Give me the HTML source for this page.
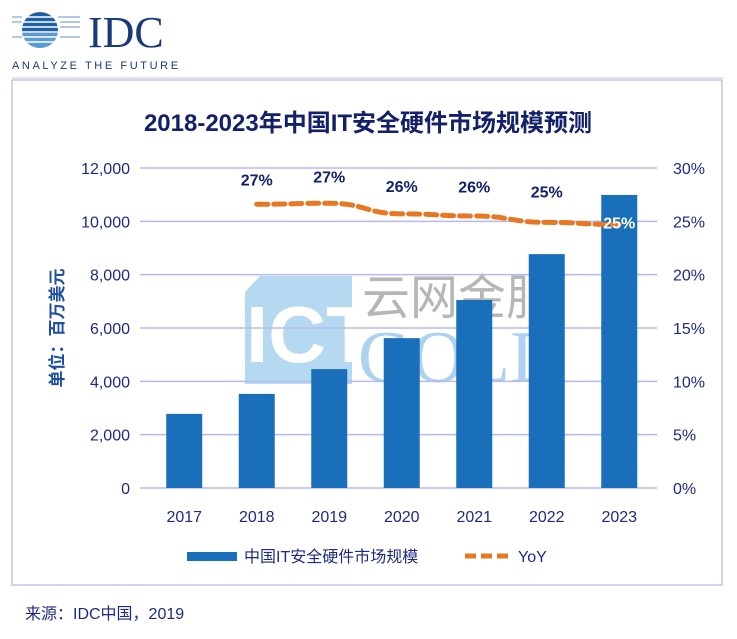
<!DOCTYPE html>
<html><head><meta charset="utf-8"><style>
body{margin:0;width:737px;height:634px;background:#fff;overflow:hidden;font-family:"Liberation Sans","Noto Sans CJK SC",sans-serif;}
svg text{font-family:"Liberation Sans","Noto Sans CJK SC",sans-serif;}
</style></head><body>
<svg width="737" height="634" xmlns="http://www.w3.org/2000/svg">
<g>
  <clipPath id="gc"><circle cx="40" cy="30" r="18"/></clipPath>
  <g clip-path="url(#gc)">
    <rect x="20" y="10" width="40" height="40" fill="#1f5fa8"/>
    <rect x="20" y="33" width="40" height="20" fill="#5b9bd5"/>
  </g>
  <g stroke="#fff" stroke-width="1.5">
    <line x1="10" y1="17" x2="80" y2="17"/><line x1="10" y1="22" x2="80" y2="22"/><line x1="10" y1="27" x2="80" y2="27"/><line x1="10" y1="32" x2="80" y2="32"/><line x1="10" y1="37" x2="80" y2="37"/><line x1="10" y1="42" x2="80" y2="42"/>
  </g>
  <g stroke="#6a90c0" stroke-width="1"><line x1="12" y1="17" x2="22" y2="17"/><line x1="58" y1="17" x2="80" y2="17"/><line x1="12" y1="22" x2="22" y2="22"/><line x1="60" y1="22" x2="80" y2="22"/><line x1="60" y1="27" x2="80" y2="27"/><line x1="12" y1="37" x2="22" y2="37"/><line x1="60" y1="37" x2="80" y2="37"/></g>
  <text x="88" y="47" font-size="44" fill="#1a3a7a" style="font-family:'Liberation Serif',serif">IDC</text>
  <text x="12" y="69" font-size="11" fill="#1a3a7a" letter-spacing="2.6">ANALYZE THE FUTURE</text>
  <line x1="12" y1="78" x2="724" y2="78" stroke="#c8c8e0" stroke-width="1"/>
</g>
<rect x="12" y="80" width="710" height="505" fill="none" stroke="#c4c4e4" stroke-width="1.5"/>
<text x="368" y="131" font-size="24" font-weight="bold" fill="#13206a" text-anchor="middle">2018-2023年中国IT安全硬件市场规模预测</text>
<g opacity="0.85">
  <path d="M260 276 H352 V384 H245 V292 Z" fill="#a9d3ee"/>
  <text x="246" y="362" font-size="80" fill="#fff" font-weight="bold">ICT</text>
  <text x="358" y="382" font-size="74" fill="#9fcbea" style="font-family:'Liberation Serif',serif">GOLD</text>
  <text x="362" y="314" font-size="48" fill="#aaa">云网金服</text>
</g>
<g id="grid"></g>
<g id="bars"></g>
<g id="line"></g>
<g id="axes"></g>
<text transform="translate(63,328) rotate(-90)" font-size="17" font-weight="bold" fill="#1f4fa0" text-anchor="middle">单位：百万美元</text>
<g>
  <rect x="187" y="552" width="50" height="9" fill="#1a6fba"/>
  <text x="244" y="562" font-size="16" fill="#1e2a80">中国IT安全硬件市场规模</text>
  <line x1="465" y1="556" x2="512" y2="556" stroke="#e87722" stroke-width="5" stroke-dasharray="11,5"/>
  <text x="518" y="562" font-size="16" fill="#1e2a80">YoY</text>
</g>
<text x="25" y="619" font-size="16" fill="#1e2a80">来源：IDC中国，2019</text>
</svg>
<script>
const years=['2017','2018','2019','2020','2021','2022','2023'];
const market=[2780,3530,4460,5620,7050,8770,10990];
const yoy=[null,26.6,26.7,25.7,25.5,24.9,24.7];
const yoyLabels=['','27%','27%','26%','26%','25%','25%'];
const leftTicks=[0,2000,4000,6000,8000,10000,12000];
const rightTicks=[0,5,10,15,20,25,30];
const NS='http://www.w3.org/2000/svg';
const top0=168,bot=488,x0=148,step=72.5,bw=36;
const yL=v=>bot-(v/12000)*(bot-top0);
const yR=v=>bot-(v/30)*(bot-top0);
const xC=i=>x0+step*(i+0.5);
function mk(t,a,p){const e=document.createElementNS(NS,t);for(const k in a)e.setAttribute(k,a[k]);p.appendChild(e);return e;}
const g=document.getElementById('grid'),ax=document.getElementById('axes');
leftTicks.forEach((v,i)=>{
  const l=mk('line',{x1:140,x2:657,y1:yL(v),y2:yL(v),stroke:'#b8b8ee','stroke-width':1.5},g);
  
  
  const t=mk('text',{x:130,y:yL(v)+6,'font-size':16,fill:'#1e2a80','text-anchor':'end'},ax);t.textContent=v.toLocaleString('en-US');
  
  
});
rightTicks.forEach(v=>{
  const t=mk('text',{x:673,y:yR(v)+6,'font-size':16,fill:'#1e2a80'},ax);t.textContent=v+'%';
  
  
});
const b=document.getElementById('bars');
years.forEach((y,i)=>{
  const r=mk('rect',{x:xC(i)-bw/2,y:yL(market[i]),width:bw,height:bot-yL(market[i]),fill:'#1a6fba'},b);
  
  
  const t=mk('text',{x:xC(i),y:522,'font-size':16,fill:'#1e2a80','text-anchor':'middle'},ax);t.textContent=y;
  
  
});
const ln=document.getElementById('line');
let pts=[];yoy.forEach((v,i)=>{if(v!==null)pts.push([xC(i),yR(v)]);});
let d='M'+pts[0][0]+' '+pts[0][1];
for(let i=1;i<pts.length;i++){const p=pts[i-1],q=pts[i],m=(q[0]-p[0])/2;d+=' C'+(p[0]+m)+' '+p[1]+' '+(q[0]-m)+' '+q[1]+' '+q[0]+' '+q[1];}
const path=mk('path',{d:d,fill:'none',stroke:'#e87722','stroke-width':5,'stroke-dasharray':'11,6','stroke-linecap':'round'},ln);


yoy.forEach((v,i)=>{if(v===null)return;
  const last=i===yoy.length-1;
  const t=mk('text',{x:xC(i),y:last?yR(v)+4:yR(v)-19-(i-1)*1.5,'font-size':16,'font-weight':'bold',fill:last?'#fff':'#13206a','text-anchor':'middle'},ln);
  t.textContent=yoyLabels[i];
  
  
});
</script>
</body></html>
